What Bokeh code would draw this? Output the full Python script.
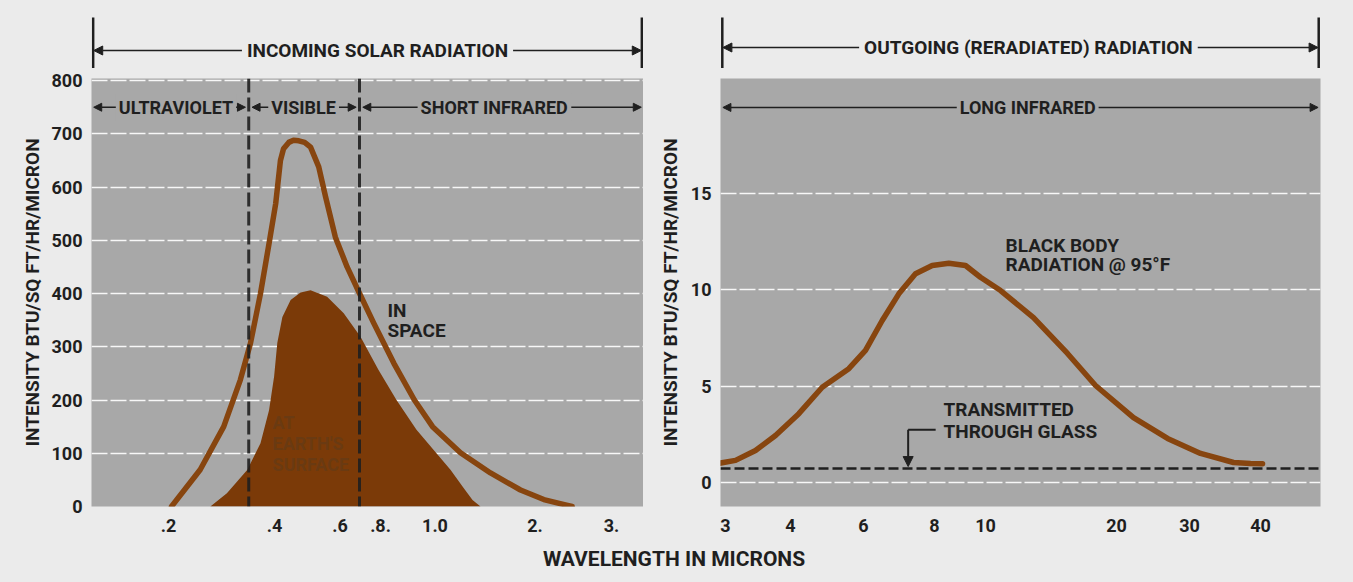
import numpy as np
from bokeh.plotting import figure
from bokeh.models import (Range1d, FixedTicker, CustomJSTickFormatter, Label, Arrow,
                          NormalHead, Div, Span)
from bokeh.layouts import row, column
from bokeh.embed import file_html
from bokeh.resources import INLINE

# ---------------- data ----------------
# Incoming solar radiation in space (outline curve): wavelength (micron), intensity
space_um = [0.204, 0.246, 0.287, 0.320, 0.342, 0.365, 0.386, 0.403, 0.415, 0.423, 0.437,
            0.450, 0.465, 0.482, 0.500, 0.526, 0.549, 0.583, 0.631, 0.686, 0.763, 0.845,
            0.919, 0.990, 1.193, 1.469, 1.809, 2.096, 2.350, 2.435]
space_val = [0, 69, 150, 238, 307, 400, 494, 569, 650, 672, 684,
             688, 687, 684, 675, 638, 581, 506, 450, 403, 344, 269,
             200, 150, 101, 63, 31, 13, 3, 0]

# Solar radiation at earth's surface (filled area)
surface_um = [0.263, 0.293, 0.335, 0.365, 0.386, 0.399, 0.407, 0.420, 0.442, 0.470, 0.500,
              0.554, 0.616, 0.694, 0.788, 0.854, 0.927, 1.010, 1.113, 1.218, 1.297, 1.371]
surface_val = [0, 25, 69, 119, 181, 244, 307, 356, 388, 402, 406,
               394, 363, 319, 257, 200, 144, 100, 69, 35, 12, 0]

# Black body radiation at 95 F
body_um = [2.892, 3.136, 3.426, 3.743, 4.189, 4.771, 5.530, 6.049, 6.473, 6.923, 7.407,
           7.926, 8.517, 9.162, 9.780, 10.83, 12.89, 15.43, 17.90, 21.98, 26.55, 31.37,
           35.86, 38.42, 40.33]
body_val = [1.00, 1.17, 1.68, 2.46, 3.59, 4.96, 5.92, 6.87, 8.42, 9.80, 10.84,
            11.27, 11.39, 11.27, 10.66, 9.97, 8.57, 6.71, 5.05, 3.39, 2.31, 1.53,
            1.06, 1.01, 1.00]

glass_level = 0.75

left_tick_um = [0.2, 0.4, 0.6, 0.8, 1.0, 2.0, 3.0]
left_tick_labels = [".2", ".4", ".6", ".8.", "1.0", "2.", "3."]
right_tick_um = [3, 4, 6, 8, 10, 20, 30, 40]
right_tick_labels = ["3", "4", "6", "8", "10", "20", "30", "40"]
left_y_ticks = [0, 100, 200, 300, 400, 500, 600, 700, 800]
right_y_ticks = [0, 5, 10, 15]

band_bounds_um = [0.338, 0.689]          # ultraviolet | visible | short infrared
band_names = ["ULTRAVIOLET", "VISIBLE", "SHORT INFRARED"]
band_label_um = [0.210, 0.479, 1.51]

# ---------------- layout constants ----------------
# the hand-drawn wavelength axes are not quite logarithmic: tick positions as
# fractions of each panel's width
LEFT_TICK_POS = [0.1395, 0.3315, 0.4502, 0.5236, 0.6223, 0.8034, 0.9420]
RIGHT_TICK_POS = [0.0083, 0.1167, 0.2383, 0.3567, 0.4417, 0.6600, 0.7817, 0.9000]

FONT = "Roboto"
INK = "#1f1f1f"
PAPER = "#ebebeb"
PANEL = "#a8a8a8"
BROWN = "#87450f"
FILL = "#7b3a08"


def make_warp(tick_um, tick_pos):
    lt = np.log(np.asarray(tick_um, float))
    tp = np.asarray(tick_pos, float)
    s_lo = (tp[1] - tp[0]) / (lt[1] - lt[0])
    s_hi = (tp[-1] - tp[-2]) / (lt[-1] - lt[-2])

    def warp(um):
        l = np.log(np.atleast_1d(np.asarray(um, float)))
        out = np.interp(l, lt, tp)
        lo = l < lt[0]
        hi = l > lt[-1]
        out[lo] = tp[0] + (l[lo] - lt[0]) * s_lo
        out[hi] = tp[-1] + (l[hi] - lt[-1]) * s_hi
        return out
    return warp


wl = make_warp(left_tick_um, LEFT_TICK_POS)
wr = make_warp(right_tick_um, RIGHT_TICK_POS)


def f1(w, v):
    return float(w(v)[0])


def head(size=9):
    return NormalHead(size=size, fill_color=INK, line_color=INK, line_width=1)


def text_label(p, x, y, text, size="19px", align="left", color=INK, bg=None, pad=0):
    kw = {}
    if bg is not None:
        kw = dict(background_fill_color=bg, padding=pad)
    p.add_layout(Label(x=x, y=y, text=text, text_font=FONT, text_font_style="bold",
                       text_font_size=size, text_color=color, text_align=align,
                       text_baseline="middle", **kw))


def style_axes(p, xticks, xlabels, yticks, standoff):
    for ax in (p.xaxis, p.yaxis):
        ax.axis_line_color = None
        ax.major_tick_line_color = None
        ax.minor_tick_line_color = None
        ax.major_label_text_font = FONT
        ax.major_label_text_font_style = "bold"
        ax.major_label_text_font_size = "18px"
        ax.major_label_text_color = INK
    p.xaxis.major_label_standoff = 6
    p.yaxis.major_label_standoff = 3
    p.xaxis.ticker = FixedTicker(ticks=xticks)
    p.xaxis.formatter = CustomJSTickFormatter(args=dict(labels=xlabels),
                                              code="return labels[index];")
    p.yaxis.ticker = FixedTicker(ticks=yticks)
    p.yaxis.axis_label = "INTENSITY BTU/SQ FT/HR/MICRON"
    p.yaxis.axis_label_text_font = FONT
    p.yaxis.axis_label_text_font_style = "bold"
    p.yaxis.axis_label_text_font_size = "19px"
    p.yaxis.axis_label_text_color = INK
    p.yaxis.axis_label_standoff = standoff
    p.xgrid.visible = False
    p.ygrid.grid_line_color = "white"
    p.ygrid.grid_line_width = 1.6
    p.ygrid.grid_line_alpha = 0.9
    p.ygrid.grid_line_dash = "16 3"


def header(width, bl, br, xr, text, tx, ty):
    h = figure(width=width, height=60, x_range=xr, y_range=Range1d(0, 1),
               x_axis_location=None, y_axis_location=None, toolbar_location=None,
               output_backend="svg", min_border_left=bl, min_border_right=br,
               min_border_top=0, min_border_bottom=0, background_fill_color=PAPER,
               border_fill_color=PAPER, outline_line_color=None)
    h.grid.visible = False
    h.segment(x0=[0.003, 0.997], y0=[0.0, 0.0], x1=[0.003, 0.997], y1=[0.85, 0.85],
              line_color=INK, line_width=2.5)
    h.add_layout(Arrow(start=head(), end=head(), x_start=0.004, x_end=0.996,
                       y_start=ty, y_end=ty, line_color=INK, line_width=1.6))
    text_label(h, tx, ty, text, align="center", bg=PAPER, pad=5)
    return h


# ---------------- left panel ----------------
xr_left = Range1d(0, 1)
pL = figure(width=635, height=473, x_range=xr_left, y_range=Range1d(0, 804),
            output_backend="svg", toolbar_location=None, min_border_left=83,
            min_border_right=0, min_border_top=10, min_border_bottom=35,
            background_fill_color=PANEL, border_fill_color=PAPER, outline_line_color=None)
style_axes(pL, [float(v) for v in wl(left_tick_um)], left_tick_labels, left_y_ticks, 5)

pL.varea(x=wl(surface_um), y1=np.zeros(len(surface_val)), y2=surface_val,
         fill_color=FILL)
pL.line(x=wl(space_um), y=space_val, line_color=BROWN, line_width=5.5,
        line_join="round", line_cap="round")

for b in band_bounds_um:
    pL.add_layout(Span(location=f1(wl, b), dimension="height", line_color=INK,
                       line_width=3, line_dash="14 5", line_alpha=0.9))

band_edges = [0.004] + [float(v) for v in wl(band_bounds_um)] + [0.996]
for i, name in enumerate(band_names):
    x0 = band_edges[i] + (0.006 if i > 0 else 0.0)
    x1 = band_edges[i + 1] - (0.006 if i < len(band_names) - 1 else 0.0)
    pL.add_layout(Arrow(start=head(8), end=head(8), x_start=x0, x_end=x1,
                        y_start=750, y_end=750, line_color=INK, line_width=1.6))
    text_label(pL, f1(wl, band_label_um[i]), 750, name, size="18px", align="center",
               bg=PANEL, pad=3)

text_label(pL, f1(wl, 0.823), 368, "IN")
text_label(pL, f1(wl, 0.823), 331, "SPACE")
for txt, yv in (("AT", 158), ("EARTH'S", 118), ("SURFACE", 78)):
    text_label(pL, f1(wl, 0.395), yv, txt, size="18px", color="#6a3a12")

# ---------------- right panel ----------------
xr_right = Range1d(0, 1)
pR = figure(width=695, height=473, x_range=xr_right, y_range=Range1d(-1.22, 20.96),
            output_backend="svg", toolbar_location=None, min_border_left=77,
            min_border_right=18, min_border_top=10, min_border_bottom=35,
            background_fill_color=PANEL, border_fill_color=PAPER, outline_line_color=None)
style_axes(pR, [float(v) for v in wr(right_tick_um)], right_tick_labels, right_y_ticks, 6)

pR.line(x=wr(body_um), y=body_val, line_color=BROWN, line_width=5.5,
        line_join="round", line_cap="round")
pR.add_layout(Span(location=glass_level, dimension="width", line_color=INK,
                   line_width=2.6, line_dash="10 4"))

pR.add_layout(Arrow(start=head(8), end=head(8), x_start=0.004, x_end=0.996,
                    y_start=19.46, y_end=19.46, line_color=INK, line_width=1.6))
text_label(pR, f1(wr, 12.5), 19.46, "LONG INFRARED", size="18px", align="center",
           bg=PANEL, pad=3)

text_label(pR, f1(wr, 11.12), 12.33, "BLACK BODY")
text_label(pR, f1(wr, 11.12), 11.30, "RADIATION @ 95\u00b0F")
text_label(pR, f1(wr, 8.32), 3.83, "TRANSMITTED")
text_label(pR, f1(wr, 8.32), 2.69, "THROUGH GLASS")
pR.add_layout(Arrow(end=None, x_start=f1(wr, 7.19), x_end=f1(wr, 8.04),
                    y_start=2.76, y_end=2.76, line_color=INK, line_width=2))
pR.add_layout(Arrow(end=head(10), x_start=f1(wr, 7.19), x_end=f1(wr, 7.19),
                    y_start=2.76, y_end=glass_level + 0.1, line_color=INK, line_width=2))

# ---------------- headers ----------------
hL = header(635, 83, 0, xr_left, "INCOMING SOLAR RADIATION", f1(wl, 0.783), 0.30)
hR = header(695, 77, 18, xr_right, "OUTGOING (RERADIATED) RADIATION", f1(wr, 12.55), 0.35)

xlabel = Div(text="WAVELENGTH IN MICRONS", width=1330, height=34, margin=(0, 0, 0, 0),
             styles={"text-align": "center", "font-family": "Roboto, sans-serif",
                     "font-weight": "bold", "font-size": "21px", "color": INK,
                     "padding-top": "3px", "padding-left": "2px",
                     "background-color": PAPER})

layout = column(row(hL, hR), row(pL, pR), xlabel, margin=(8, 0, 0, 8))

html = file_html(layout, INLINE)
css = "<style>html, body { background-color: %s !important; }</style>" % PAPER
if "</head>" in html:
    html = html.replace("</head>", css + "</head>", 1)
else:
    html = css + html
open("out.html", "w").write(html)
